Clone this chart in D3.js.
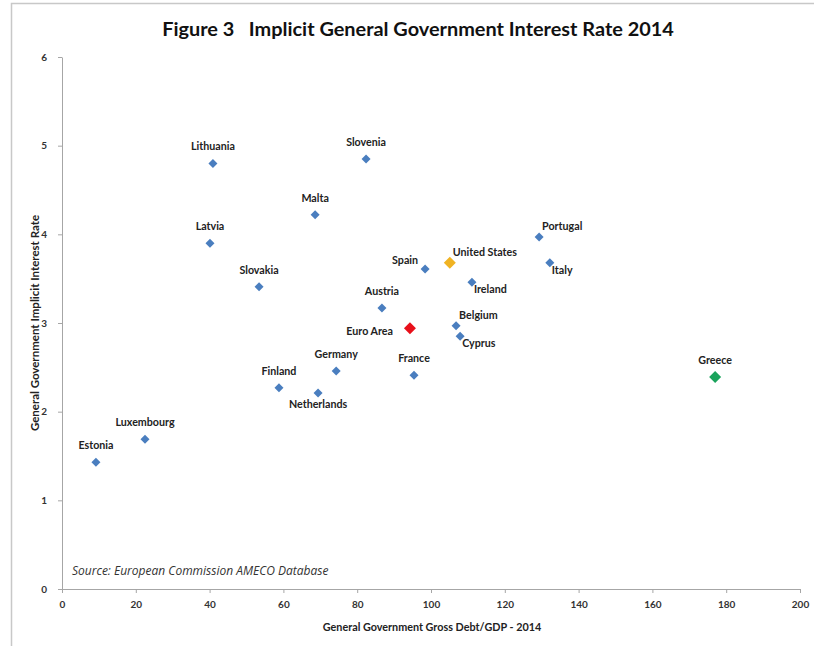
<!DOCTYPE html>
<html><head><meta charset="utf-8">
<script src="https://cdn.jsdelivr.net/npm/d3@7"></script>
<style>body{margin:0;background:#fff}svg{display:block}</style>
</head><body><svg id="c" width="814" height="646"></svg>
<script>
const countries = ["Estonia","Luxembourg","Lithuania","Latvia","Slovakia","Malta","Slovenia","Finland","Netherlands","Germany","Austria","Euro Area","France","Spain","United States","Ireland","Belgium","Cyprus","Portugal","Italy","Greece"];
const debtGDP = [9.2,22.5,40.9,40.1,53.4,68.6,82.4,58.8,69.4,74.3,86.7,94.3,95.4,98.4,105.1,111.1,106.8,107.9,129.3,132.2,177.0];
const interestRate = [1.43,1.69,4.80,3.90,3.41,4.22,4.85,2.27,2.21,2.46,3.17,2.94,2.41,3.61,3.68,3.46,2.97,2.85,3.97,3.68,2.39];
const xTicks = [0,20,40,60,80,100,120,140,160,180,200];
const yTicks = [0,1,2,3,4,5,6];
const titleText = "Figure 3   Implicit General Government Interest Rate 2014";
const xTitle = "General Government Gross Debt/GDP - 2014";
const yTitle = "General Government Implicit Interest Rate";
const sourceText = "Source: European Commission AMECO Database";

// styling / label placement (not data)
const special = {"Euro Area":{c:"#e8101a",s:12},"United States":{c:"#f0b323",s:12},"Greece":{c:"#1aa35c",s:12}};
const labelPlace = {"Netherlands":"below","Spain":"left","Euro Area":"leftmid","United States":"aboveright","Ireland":"belowright","Belgium":"aboveright","Cyprus":"belowright","Portugal":"aboveright","Italy":"belowright"};

const svg = d3.select("#c");
const font = "Lato, 'Open Sans', sans-serif";
// frame
svg.append("rect").attr("x",11.5).attr("y",3.5).attr("width",900).attr("height",700)
  .attr("fill","none").attr("stroke","#c8c8c8").attr("stroke-width",1.5);

const x = d3.scaleLinear().domain([0,200]).range([62,800]);
const y = d3.scaleLinear().domain([0,6]).range([589,57]);

svg.append("text").attr("x",418).attr("y",36).attr("text-anchor","middle")
  .attr("font-family",font).attr("font-weight","bold").attr("font-size",19.9).attr("fill","#111")
  .attr("xml:space","preserve").style("white-space","pre").text(titleText);

const gx = svg.append("g").attr("transform","translate(0,589)")
  .call(d3.axisBottom(x).tickValues(xTicks).tickFormat(d3.format("d")).tickSize(4).tickSizeOuter(0).tickPadding(8));
const gy = svg.append("g").attr("transform","translate(62,0)")
  .call(d3.axisLeft(y).tickValues(yTicks).tickFormat(d3.format("d")).tickSize(4).tickSizeOuter(0).tickPadding(11));
[gx,gy].forEach(g=>{
  g.select(".domain").attr("stroke","#a6a6a6");
  g.selectAll(".tick line").attr("stroke","#a6a6a6");
  g.selectAll(".tick text").attr("font-family",font).attr("font-weight","bold").attr("font-size",10).attr("fill","#333");
});

svg.append("text").attr("x",432).attr("y",631).attr("text-anchor","middle")
  .attr("font-family",font).attr("font-weight","bold").attr("font-size",10.8).attr("fill","#222").text(xTitle);
svg.append("text").attr("transform","translate(39,323) rotate(-90)").attr("text-anchor","middle")
  .attr("font-family",font).attr("font-weight","bold").attr("font-size",11.5).attr("fill","#222").text(yTitle);

svg.append("text").attr("x",72).attr("y",575).attr("font-family","'Open Sans', sans-serif").attr("font-style","italic")
  .attr("font-size",12).attr("fill","#333").text(sourceText);

const pts = countries.map((n,i)=>({n, x:debtGDP[i], y:interestRate[i]}));
const diamond = s => `M0,${-s/2}L${s/2},0L0,${s/2}L${-s/2},0Z`;
svg.append("g").selectAll("path").data(pts).join("path")
  .attr("transform",d=>`translate(${x(d.x)},${y(d.y)})`)
  .attr("d",d=>diamond(special[d.n]?special[d.n].s:9))
  .attr("fill",d=>special[d.n]?special[d.n].c:"#4a7ebf");

const lab = svg.append("g").attr("font-family",font).attr("font-weight","bold").attr("font-size",10.7).attr("fill","#222");
pts.forEach(d=>{
  const px=x(d.x), py=y(d.y), p=labelPlace[d.n]||"above";
  let tx=px, ty=py-13, a="middle";
  if(p==="below"){ty=py+15;}
  else if(p==="left"){tx=px-7;ty=py-5;a="end";}
  else if(p==="leftmid"){tx=px-17;ty=py+7;a="end";}
  else if(p==="aboveright"){tx=px+3;ty=py-7;a="start";}
  else if(p==="belowright"){tx=px+2;ty=py+11;a="start";}
  lab.append("text").attr("x",tx).attr("y",ty).attr("text-anchor",a).text(d.n);
});
</script></body></html>
